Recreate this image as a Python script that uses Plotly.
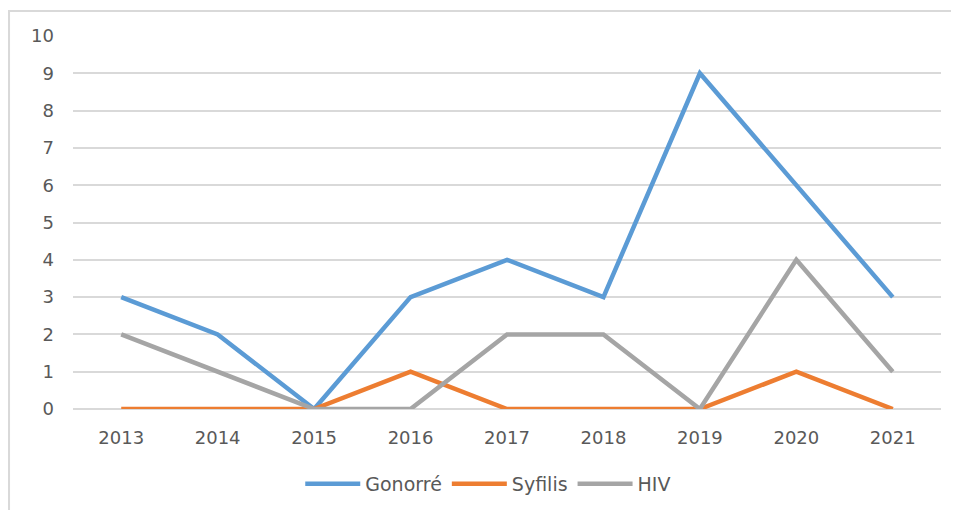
import plotly.graph_objects as go

years = ["2013", "2014", "2015", "2016", "2017", "2018", "2019", "2020", "2021"]
gonorre = [3, 2, 0, 3, 4, 3, 9, 6, 3]
syfilis = [0, 0, 0, 1, 0, 0, 0, 1, 0]
hiv = [2, 1, 0, 0, 2, 2, 0, 4, 1]
y_ticks = list(range(0, 11))

series = [("Gonorré", gonorre, "#5B9BD5"), ("Syfilis", syfilis, "#ED7D31"), ("HIV", hiv, "#A5A5A5")]

fig = go.Figure()
for name, vals, color in series:
    fig.add_trace(go.Scatter(x=years, y=vals, name=name, mode="lines",
                             line=dict(color=color, width=4.5)))

font_color = "#595959"
fig.update_layout(
    width=951, height=502,
    margin=dict(l=65, r=18, t=28, b=101, autoexpand=False),
    paper_bgcolor="white", plot_bgcolor="white",
    font=dict(family="DejaVu Sans", size=18, color=font_color),
    showlegend=True,
    legend=dict(orientation="h", xref="container", yref="container",
                x=0.505, xanchor="center", y=0.052, yanchor="middle",
                itemwidth=55, font=dict(size=19, color=font_color), tracegroupgap=0),
    xaxis=dict(type="category", range=[-0.5, 8.5], showgrid=False, showline=False,
               zeroline=False, ticks="", ticklabelstandoff=16, tickfont=dict(size=18)),
    yaxis=dict(range=[0, 10], tickvals=y_ticks, showgrid=True, gridcolor="#D9D9D9",
               gridwidth=1.5, zeroline=True, zerolinecolor="#D9D9D9", zerolinewidth=1.5,
               showline=False, ticks="", ticklabelstandoff=18, tickfont=dict(size=18)),
    shapes=[dict(type="rect", xref="paper", yref="paper",
                 x0=-0.0737, x1=1.2, y0=-0.5, y1=1.067,
                 line=dict(color="#D9D9D9", width=2), layer="below")],
)

fig.write_html("out.html")
